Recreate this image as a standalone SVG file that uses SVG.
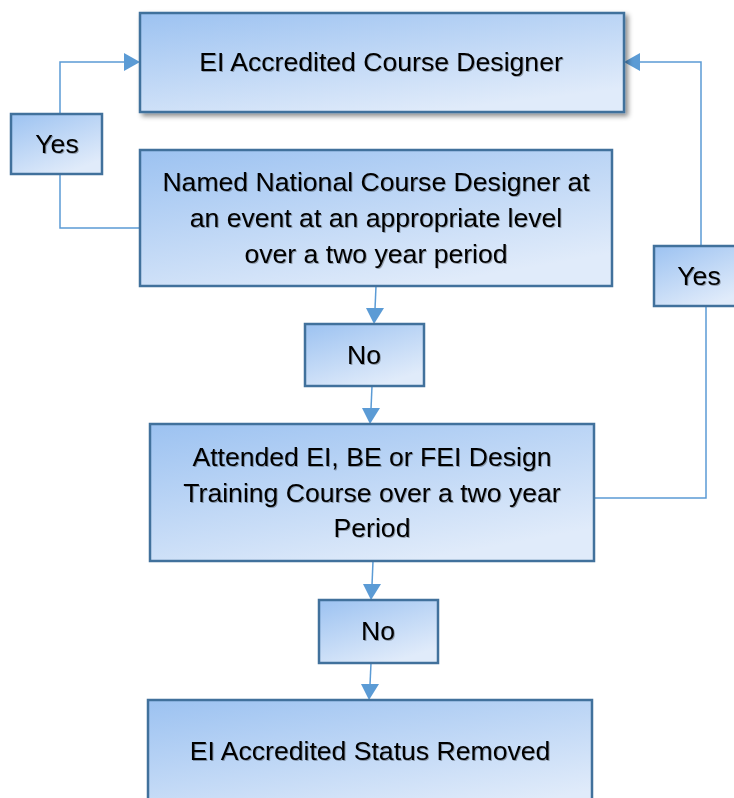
<svg xmlns="http://www.w3.org/2000/svg" width="734" height="798" viewBox="0 0 734 798">
<style>
.box{stroke:#41719c;stroke-width:2.5;fill:url(#g)}
.t{font-family:"Liberation Sans",Arial,sans-serif;font-size:26.6px;fill:#000;text-anchor:middle;filter:url(#ts)}
.c{fill:none;stroke:#5b9bd5;stroke-width:1.5}
</style>
<defs>
<linearGradient id="g" x1="0" y1="0" x2="0.6" y2="1">
<stop offset="0" stop-color="#9cc2f1"/>
<stop offset="1" stop-color="#e0ebfa"/>
</linearGradient>
<filter id="sh" x="-10%" y="-10%" width="130%" height="140%">
<feDropShadow dx="3" dy="3" stdDeviation="2.5" flood-color="#000" flood-opacity="0.45"/>
</filter>
<filter id="ts" x="-10%" y="-20%" width="120%" height="150%">
<feDropShadow dx="1" dy="1" stdDeviation="0.6" flood-color="#000" flood-opacity="0.3"/>
</filter>
</defs>
<rect width="734" height="798" fill="#fff"/>
<g id="connectors">
<path class="c" d="M140,228 H60 V174"/>
<path class="c" d="M60,114 V62 H124"/>
<polygon points="124,53 140,62 124,71" fill="#5b9bd5"/>
<path class="c" d="M594,498 H706 V306"/>
<path class="c" d="M701,246 V62 H640"/>
<polygon points="640,53 624,62 640,71" fill="#5b9bd5"/>
<path class="c" d="M376,286 L375,309"/>
<polygon points="366,308 384,308 374,324" fill="#5b9bd5"/>
<path class="c" d="M372,386 L371,409"/>
<polygon points="362,408 380,408 370,424" fill="#5b9bd5"/>
<path class="c" d="M373,561 L372,585"/>
<polygon points="363,584 381,584 371,600" fill="#5b9bd5"/>
<path class="c" d="M371,663 L370,685"/>
<polygon points="361,684 379,684 369,700" fill="#5b9bd5"/>
</g>
<g id="n1">
<rect class="box" x="140" y="13" width="484" height="99" filter="url(#sh)"/>
<text class="t" x="381" y="71">EI Accredited Course Designer</text>
</g>
<g id="yes1">
<rect class="box" x="11" y="114" width="91" height="60"/>
<text class="t" x="57" y="153">Yes</text>
</g>
<g id="n2">
<rect class="box" x="140" y="150" width="472" height="136"/>
<text class="t" x="376" y="191">Named National Course Designer at</text>
<text class="t" x="376" y="227">an event at an appropriate level</text>
<text class="t" x="376" y="263">over a two year period</text>
</g>
<g id="no1">
<rect class="box" x="305" y="324" width="119" height="62"/>
<text class="t" x="364" y="364">No</text>
</g>
<g id="yes2">
<rect class="box" x="654" y="246" width="92" height="60"/>
<text class="t" x="699" y="285">Yes</text>
</g>
<g id="n3">
<rect class="box" x="150" y="424" width="444" height="137"/>
<text class="t" x="372" y="466">Attended EI, BE or FEI Design</text>
<text class="t" x="372" y="502">Training Course over a two year</text>
<text class="t" x="372" y="537">Period</text>
</g>
<g id="no2">
<rect class="box" x="319" y="600" width="119" height="63"/>
<text class="t" x="378" y="640">No</text>
</g>
<g id="n4">
<rect class="box" x="148" y="700" width="444" height="120"/>
<text class="t" x="370" y="760">EI Accredited Status Removed</text>
</g>
</svg>
